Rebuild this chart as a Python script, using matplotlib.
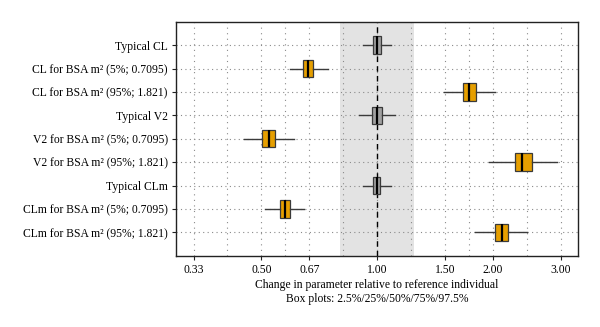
import numpy as np
import matplotlib
matplotlib.use('Agg')
import matplotlib.pyplot as plt
from matplotlib.ticker import FixedLocator, NullFormatter

plt.rcParams['font.family'] = ['Liberation Serif', 'DejaVu Serif']

# rows top to bottom
labels = ["Typical CL", "CL for BSA m² (5%; 0.7095)", "CL for BSA m² (95%; 1.821)",
          "Typical V2", "V2 for BSA m² (5%; 0.7095)", "V2 for BSA m² (95%; 1.821)",
          "Typical CLm", "CLm for BSA m² (5%; 0.7095)", "CLm for BSA m² (95%; 1.821)"]
p025 = [0.917, 0.593, 1.495, 0.896, 0.451, 1.952, 0.917, 0.511, 1.798]
p25 = [0.976, 0.643, 1.669, 0.969, 0.503, 2.278, 0.974, 0.559, 2.023]
p50 = [1.0, 0.663, 1.737, 1.0, 0.523, 2.387, 1.0, 0.576, 2.107]
p75 = [1.024, 0.683, 1.809, 1.027, 0.544, 2.52, 1.02, 0.593, 2.194]
p975 = [1.088, 0.744, 2.028, 1.112, 0.608, 2.929, 1.086, 0.646, 2.454]
typical = [True, False, False, True, False, False, True, False, False]

xticks = [1/3, 0.5, 2/3, 1.0, 1.5, 2.0, 3.0]
xticklabels = ["0.33", "0.50", "0.67", "1.00", "1.50", "2.00", "3.00"]

fig = plt.figure(figsize=(6, 3.27), dpi=100)
ax = fig.add_axes([0.2933, 0.218, 0.6705, 0.7156])

n = len(labels)
pos = np.arange(n, 0, -1)

# reference band and line at 1
ax.axvspan(0.8, 1.25, color='#e3e3e3', lw=0, zorder=0)
ax.axvline(1.0, color='black', ls=(0, (4, 3)), lw=1.0, zorder=1.5)

stats = []
for i in range(n):
    stats.append(dict(whislo=p025[i], q1=p25[i], med=p50[i], q3=p75[i],
                      whishi=p975[i], fliers=[]))

bp = ax.bxp(stats, positions=pos, widths=0.75, orientation='horizontal',
            showcaps=False, patch_artist=True,
            boxprops=dict(edgecolor='#3a3a3a', linewidth=0.9),
            whiskerprops=dict(color='#3a3a3a', linewidth=1.0),
            medianprops=dict(color='black', linewidth=1.6))
for box, t in zip(bp['boxes'], typical):
    box.set_facecolor('#a0a0a0' if t else '#e69f00')
for artist in bp['boxes'] + bp['whiskers'] + bp['medians']:
    artist.set_zorder(3)

ax.set_xscale('log')
ax.set_xlim(0.3, 1/0.3)
ax.set_ylim(0, n + 1)
ax.xaxis.set_major_locator(FixedLocator(xticks))
ax.set_xticklabels(xticklabels)
# minor grid at geometric midpoints
minor = [np.sqrt(xticks[i]*xticks[i+1]) for i in range(len(xticks)-1)]
ax.xaxis.set_minor_locator(FixedLocator(minor))
ax.xaxis.set_minor_formatter(NullFormatter())
ax.set_yticks(pos)
ax.set_yticklabels(labels)

ax.grid(True, which='both', axis='x', color='#8a8a8a', ls=(0, (1, 4)), lw=0.8, zorder=1)
ax.grid(True, which='major', axis='y', color='#8a8a8a', ls=(0, (1, 3)), lw=0.8, zorder=1)
ax.set_axisbelow(True)

ax.tick_params(axis='both', which='major', labelsize=8.4, length=3, width=0.8, pad=3, colors='#222222', labelcolor='black')
ax.tick_params(axis='x', which='minor', length=0)
for s in ax.spines.values():
    s.set_linewidth(1.0)
    s.set_color('#222222')

ax.set_xlabel("Change in parameter relative to reference individual\nBox plots: 2.5%/25%/50%/75%/97.5%",
              fontsize=8.4, labelpad=2, linespacing=1.2)

fig.savefig('out.png', dpi=100)
